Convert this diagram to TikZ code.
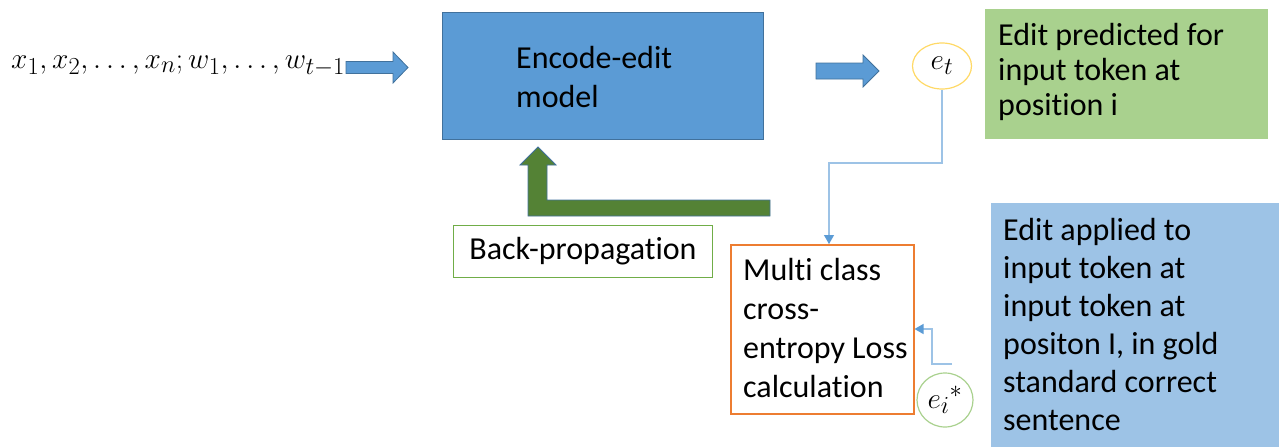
\documentclass[tikz,border=0pt]{standalone}
\usepackage{graphicx}
\usepackage{fontspec}
\setmainfont{Carlito}[Ligatures=NoCommon]
\usetikzlibrary{arrows.meta,shapes.geometric}
\definecolor{blueF}{HTML}{5B9BD5}
\definecolor{blueD}{HTML}{41719C}
\definecolor{blueL}{HTML}{9DC3E6}
\definecolor{greenL}{HTML}{A9D18E}
\definecolor{greenD}{HTML}{548235}
\definecolor{greenB}{HTML}{70AD47}
\definecolor{orangeB}{HTML}{ED7D31}
\definecolor{goldB}{HTML}{FFD966}
\newcommand{\bigmath}[1]{\scalebox{1.18}{\Huge$#1$}}
\tikzset{
  txt/.style={font=\fontsize{32}{39}\selectfont, inner sep=0pt, align=left},
  blockarrow/.style={fill=blueF, draw=blueD, line width=0.8pt},
  conn/.style={draw=blueL, line width=1.2pt, -{Triangle[width=10pt,length=9pt,color=blueF]}},
}
\begin{document}
\begin{tikzpicture}[x=1pt,y=-1pt]
\useasboundingbox (0,0) rectangle (1279,447);
% input text
\node[inner sep=0pt, anchor=west] (inp) at (11,66) {\bigmath{x_1, x_2, \ldots, x_n; w_1, \ldots, w_{t-1}}};
% arrow 1
\draw[blockarrow] (346,61.5) -- (393,61.5) -- (393,52) -- (408,67.5) -- (393,83) -- (393,73.5) -- (346,73.5) -- cycle;
% encode box
\node[draw=blueD, fill=blueF, line width=1pt, minimum width=321pt, minimum height=127pt, anchor=north west, inner sep=0pt] (enc) at (442,12) {};
\node[txt, anchor=west] (enct) at (516,77) {Encode-edit\\model};
% arrow 2
\draw[blockarrow] (816,63) -- (863,63) -- (863,55) -- (879,71) -- (863,87) -- (863,79) -- (816,79) -- cycle;
% e_t
\node[draw=goldB, line width=1.2pt, ellipse, minimum width=59pt, minimum height=46pt, inner sep=0pt] (et) at (942,66) {\bigmath{e_t}};
% green box
\node[fill=greenL, minimum width=283pt, minimum height=130pt, anchor=north west, inner sep=0pt] (gbox) at (985,9) {};
\node[txt, anchor=west, font=\fontsize{32}{35}\selectfont] (gtxt) at (998,72) {Edit predicted for\\input token at\\position i};
% back-propagation arrow
\draw[fill=greenD, draw=blueD, line width=0.8pt] (770,200) -- (547,200) -- (547,165) -- (556,165) -- (538,147) -- (520,165) -- (528,165) -- (528,216) -- (770,216) -- cycle;
% back-propagation box
\node[draw=greenB, line width=1pt, minimum width=259pt, minimum height=52pt, anchor=north west, inner sep=0pt] (bp) at (453,225) {};
\node[txt] (bpt) at (bp.center) {Back-propagation};
% loss box
\node[draw=orangeB, line width=1.5pt, minimum width=183pt, minimum height=169pt, anchor=north west, inner sep=0pt] (loss) at (730,244) {};
\node[txt, anchor=west] (losst) at (743,328) {Multi class\\cross-\\entropy Loss\\calculation};
% e_i*
\node[draw=greenL, line width=1.2pt, ellipse, minimum width=56pt, minimum height=54pt, inner sep=0pt] (ei) at (945,400) {\bigmath{e_i{}^{*}}};
% blue box
\node[fill=blueL, minimum width=288pt, minimum height=244pt, anchor=north west, inner sep=0pt] (bbox) at (991,203) {};
\node[txt, anchor=west, font=\fontsize{32}{38}\selectfont] (btxt) at (1003,325) {Edit applied to\\input token at\\input token at\\positon I, in gold\\standard correct\\sentence};
% connectors
\coordinate (free) at (952,364);
\draw[conn] (et.south) |- (829,163) -- (829,243) -- (loss.north -| 829,0);
\draw[conn] (free) -- (932,364) -- (932,329) -- (loss.east |- 0,329);
\end{tikzpicture}
\end{document}
